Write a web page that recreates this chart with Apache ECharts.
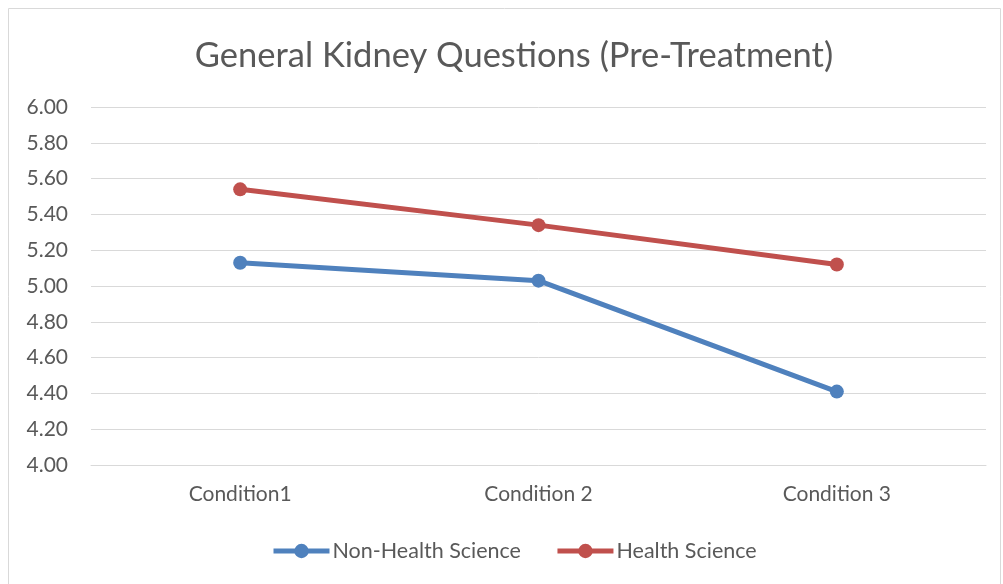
<!DOCTYPE html>
<html>
<head>
<meta charset="utf-8">
<script src="https://cdn.jsdelivr.net/npm/echarts@6/dist/echarts.min.js"></script>
<style>
  html, body { margin: 0; padding: 0; background: #fff; }
  #chart { width: 1003px; height: 584px; }
</style>
</head>
<body>
<div id="chart"></div>
<script>
const categories = ["Condition1", "Condition 2", "Condition 3"];
const nonHealth = [5.13, 5.03, 4.41];
const health = [5.54, 5.34, 5.12];

const textColor = "#595959";
const fontFamily = "Lato, 'Open Sans', sans-serif";

const chart = echarts.init(document.getElementById("chart"));

chart.setOption({
    animation: false,
    textStyle: { fontFamily: fontFamily, color: textColor },
    graphic: [{
        type: "rect",
        shape: { x: 8.5, y: 8.5, width: 992, height: 590 },
        style: { fill: "none", stroke: "#d9d9d9", lineWidth: 1 },
        silent: true
    }],
    title: {
        text: "General Kidney Questions (Pre-Treatment)",
        left: 509,
        top: 33,
        textAlign: "center",
        textStyle: { fontFamily: fontFamily, fontSize: 34.5, fontWeight: "normal", color: textColor }
    },
    legend: {
        top: 535,
        left: 266,
        itemWidth: 56,
        itemHeight: 18,
        itemGap: 34,
        lineStyle: { width: 5 },
        textStyle: { fontFamily: fontFamily, fontSize: 21.5, color: textColor, padding: [0, 0, 0, -2] },
        data: ["Non-Health Science", "Health Science"]
    },
    grid: { left: 91, right: 17, top: 107, bottom: 119 },
    xAxis: {
        type: "category",
        data: categories,
        axisLine: { lineStyle: { color: "#d9d9d9", width: 1 } },
        axisTick: { show: false },
        axisLabel: { fontFamily: fontFamily, fontSize: 21, color: textColor, margin: 19 }
    },
    yAxis: {
        type: "value",
        min: 4,
        max: 6,
        interval: 0.2,
        axisLine: { show: false },
        axisTick: { show: false },
        splitLine: { lineStyle: { color: "#d9d9d9", width: 1 } },
        axisLabel: {
            fontFamily: fontFamily, fontSize: 21, color: textColor, margin: 23,
            formatter: v => v.toFixed(2)
        }
    },
    series: [
        {
            name: "Non-Health Science",
            type: "line",
            data: nonHealth,
            symbol: "circle",
            symbolSize: 14,
            itemStyle: { color: "#4F81BD" },
            lineStyle: { color: "#4F81BD", width: 5 }
        },
        {
            name: "Health Science",
            type: "line",
            data: health,
            symbol: "circle",
            symbolSize: 14,
            itemStyle: { color: "#C0504D" },
            lineStyle: { color: "#C0504D", width: 5 }
        }
    ]
});
</script>
</body>
</html>
